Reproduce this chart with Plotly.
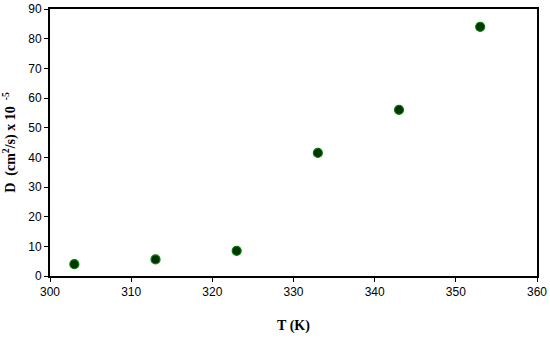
import plotly.graph_objects as go

# Temperature (K) and diffusion coefficient D (cm2/s x 10^-5)
temperature = [303, 313, 323, 333, 343, 353]
diffusion = [4.0, 5.6, 8.5, 41.5, 56.0, 84.0]

x_ticks = [300, 310, 320, 330, 340, 350, 360]
y_ticks = [0, 10, 20, 30, 40, 50, 60, 70, 80, 90]

fig = go.Figure()

fig.add_trace(go.Scatter(
    x=temperature, y=diffusion,
    mode="markers",
    marker=dict(size=9, color="#003300", line=dict(color="#008000", width=1.2)),
    showlegend=False,
))

axis_font = dict(family="Liberation Sans, Arial", size=12, color="black")
title_font = dict(family="Liberation Serif, Times New Roman", size=14, color="black")

fig.update_xaxes(
    range=[300, 360], tickvals=x_ticks, automargin=False, ticklabeloverflow="allow",
    showline=True, linecolor="black", linewidth=2, mirror=True,
    ticks="outside", ticklen=4, tickcolor="black", tickwidth=1,
    showgrid=False, zeroline=False, tickfont=axis_font,
    title=dict(text="<b>T (K)</b>", font=title_font, standoff=22),
)
fig.update_yaxes(
    range=[0, 90], tickvals=y_ticks, automargin=False, ticklabeloverflow="allow",
    showline=True, linecolor="black", linewidth=2, mirror=True,
    ticks="outside", ticklen=4, tickcolor="black", tickwidth=1,
    showgrid=False, zeroline=False, tickfont=axis_font,
    title=dict(text="<b>D  (cm<sup>2</sup>/s) x 10 <sup> -5</sup></b>", font=title_font, standoff=10),
)

fig.update_layout(
    width=550, height=342,
    margin=dict(l=50, r=13, t=9, b=66),
    plot_bgcolor="white", paper_bgcolor="white",
)

# drop the default body margin so the figure sits at the window's corner
fig.write_html(
    "out.html",
    config={"displayModeBar": False},
    post_script="document.body.style.margin='0';",
)
